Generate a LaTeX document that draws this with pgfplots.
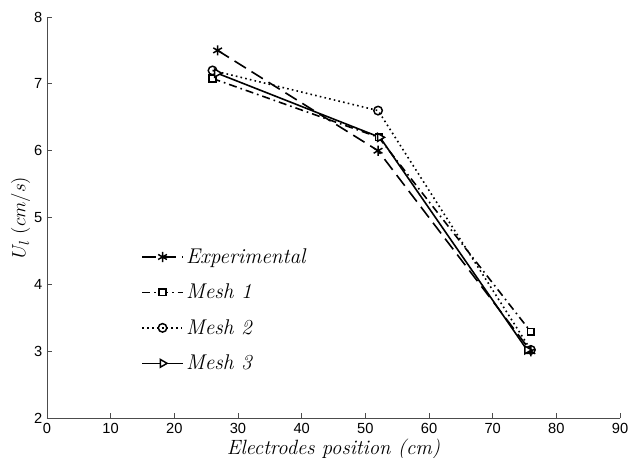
\documentclass[border=0pt]{standalone}
\usepackage{fontspec}
\setsansfont{Liberation Sans}
\usepackage{pgfplots}
\pgfplotsset{compat=1.18}
\begin{document}
\begin{tikzpicture}
\begin{axis}[
  scale only axis,
  width=430pt, height=301pt,
  xmin=0, xmax=90, ymin=2, ymax=8,
  xtick={0,10,...,90}, ytick={2,3,...,8},
  axis lines*=left,
  axis line style={black!70, line width=0.7pt},
  tick style={black!70, line width=0.7pt},
  tick align=inside,
  major tick length=3.5pt,
  tick label style={font=\sffamily\fontsize{11}{13}\selectfont},
  /pgf/number format/assume math mode=true,
  xlabel={\textit{Electrodes position (cm)}},
  ylabel={$U_l\ (cm/s)$},
  label style={font=\fontsize{15.5}{18}\selectfont},
  xlabel style={yshift=2.5pt},
  ylabel style={yshift=-4pt},
  legend style={at={(axis cs:14.2,4.62)}, anchor=north west,
    draw=none, fill=none, font=\fontsize{16}{19}\selectfont, row sep=10pt},
  legend cell align=left,
  legend image code/.code={\draw[mark repeat=2,mark phase=2]
    plot coordinates {(0cm,0cm)(0.53cm,0cm)(1.06cm,0cm)};},
]
% Experimental
\addplot[black, line width=1.2pt, dash pattern=on 10pt off 5pt,
  mark=asterisk, mark size=3.8pt, mark options={solid, line width=1.1pt}]
  coordinates {(26.8,7.5)(52,6.0)(76,3.0)};
% Mesh 1
\addplot[black, line width=1.2pt, dash pattern=on 6pt off 3pt on 1.2pt off 3pt,
  mark=square*, mark size=2.5pt, mark options={solid, fill=white, line width=1.1pt}]
  coordinates {(26,7.08)(52.1,6.2)(76,3.29)};
% Mesh 2
\addplot[black, line width=1.2pt, dash pattern=on 1.2pt off 2.4pt,
  mark=o, mark size=3.2pt, mark options={solid, line width=1.1pt}]
  coordinates {(26,7.2)(52,6.6)(76,3.02)};
% Mesh 3
\addplot[black, line width=1.2pt,
  mark=triangle*, mark size=3.4pt, mark options={solid, fill=white, rotate=-90, line width=1.1pt}]
  coordinates {(26.7,7.16)(52.3,6.2)(75.4,3.02)};
\legend{\textit{Experimental},\textit{Mesh 1},\textit{Mesh 2},\textit{Mesh 3}}
\end{axis}
\pgfresetboundingbox
\path ([shift={(-35.25pt,-29.25pt)}]current axis.south west)
  rectangle ([shift={(7.5pt,12.75pt)}]current axis.north east);
\end{tikzpicture}
\end{document}
